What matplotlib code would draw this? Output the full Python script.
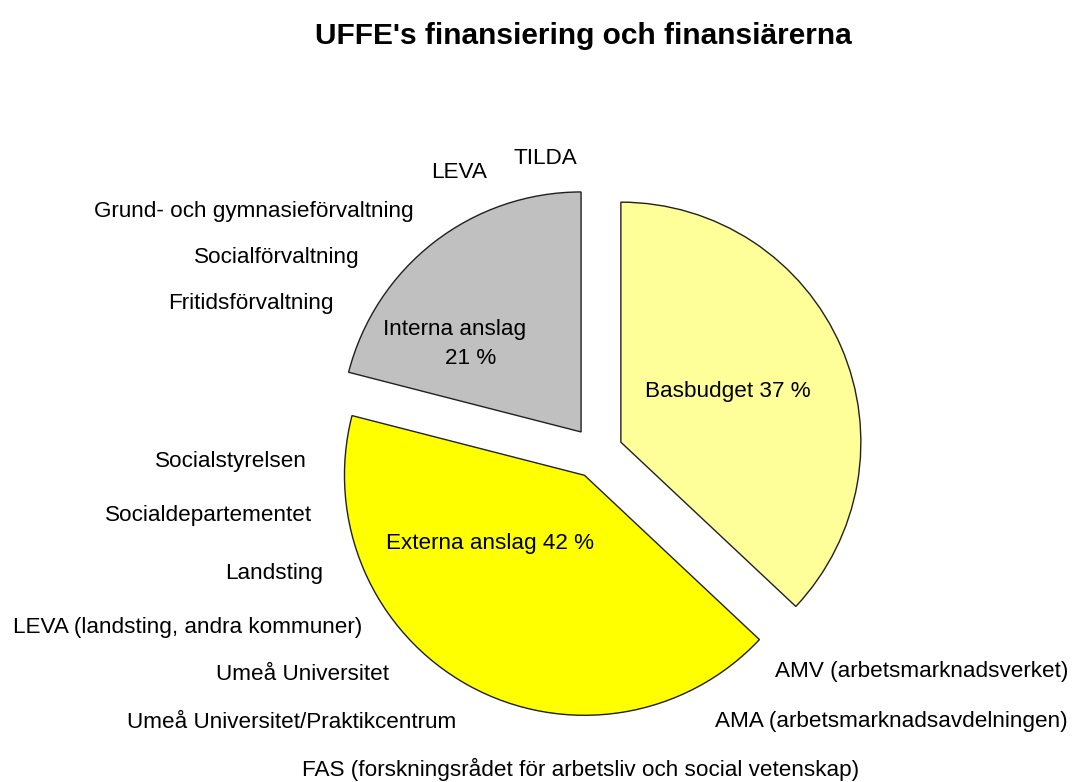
import matplotlib
matplotlib.use("Agg")
import matplotlib.pyplot as plt

plt.rcParams['font.family'] = ['Liberation Sans', 'DejaVu Sans']

# data
categories = ["Basbudget", "Externa anslag", "Interna anslag"]
shares = [37, 42, 21]
slice_texts = ["Basbudget 37 %", "Externa anslag 42 %", "Interna anslag", "21 %"]

interna_sources = ["TILDA", "LEVA", "Grund- och gymnasieförvaltning",
                   "Socialförvaltning", "Fritidsförvaltning"]
externa_sources = ["Socialstyrelsen", "Socialdepartementet", "Landsting",
                   "LEVA (landsting, andra kommuner)", "Umeå Universitet",
                   "Umeå Universitet/Praktikcentrum",
                   "FAS (forskningsrådet för arbetsliv och social vetenskap)"]
right_sources = ["AMV (arbetsmarknadsverket)", "AMA (arbetsmarknadsavdelningen)"]

title = "UFFE's finansiering och finansiärerna"

# layout (pixel positions, y from top)
W, H = 1073, 782
slice_colors = ["#FFFF99", "#FFFF00", "#C0C0C0"]
slice_text_pos = [(728, 392), (490, 543), (455, 330), (471, 358)]
interna_pos = [(545, 158), (459, 172), (254, 212), (277, 257), (251, 303)]
externa_pos = [(231, 462), (209, 516), (274, 573), (188, 627), (303, 675),
               (292, 723), (581, 769)]
right_pos = [(1068, 672), (1068, 722)]

fig = plt.figure(figsize=(W / 100, H / 100), dpi=100)
ax = fig.add_axes([0, 0, 1, 1])

ax.pie(shares, colors=slice_colors, startangle=90, counterclock=False,
       explode=[26, 26, 26], radius=240, center=(597, H - 452.5),
       wedgeprops=dict(edgecolor='#202020', linewidth=1))
ax.set_xlim(0, W)
ax.set_ylim(0, H)
ax.set_aspect('equal')
ax.axis('off')

fs = 16.2
for txt, (x, y) in zip(slice_texts, slice_text_pos):
    ax.text(x, H - y, txt, ha='center', va='center', fontsize=fs)

for txt, (x, y) in zip(interna_sources + externa_sources, interna_pos + externa_pos):
    ax.text(x, H - y, txt, ha='center', va='center', fontsize=fs)

for txt, (x, y) in zip(right_sources, right_pos):
    ax.text(x, H - y, txt, ha='right', va='center', fontsize=fs)

ax.text(583, H - 44, title, ha='center', va='baseline', fontsize=21.5, fontweight='bold')

fig.savefig("out.png", dpi=100, facecolor='white')
